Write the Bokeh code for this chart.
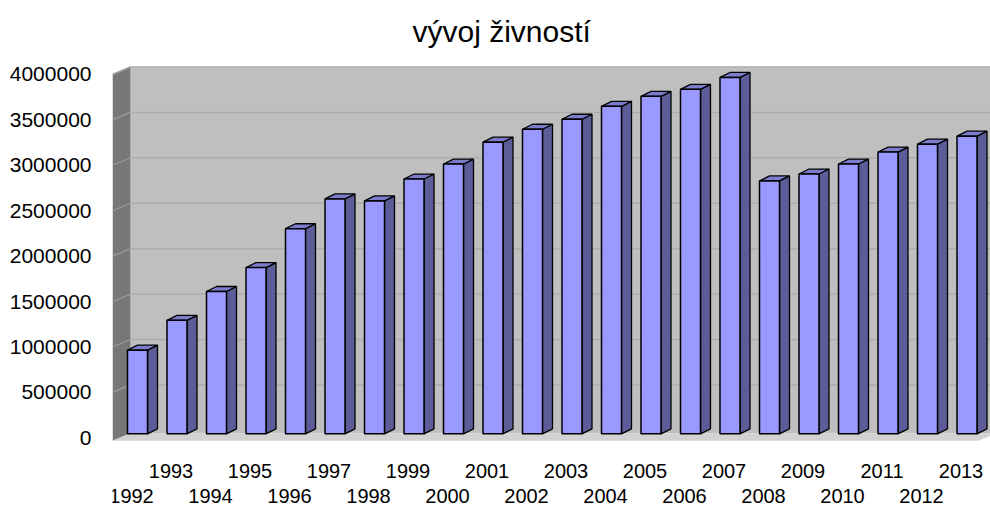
from bokeh.plotting import figure
from bokeh.models import Range1d, FixedTicker, NumeralTickFormatter, ColumnDataSource
from bokeh.core.properties import value
from bokeh.embed import file_html
from bokeh.resources import INLINE
import numpy as np

# ---- data ----
years = ["1992", "1993", "1994", "1995", "1996", "1997", "1998", "1999", "2000", "2001", "2002",
         "2003", "2004", "2005", "2006", "2007", "2008", "2009", "2010", "2011", "2012", "2013"]
counts = [921000, 1249000, 1567000, 1830000, 2258000, 2586000, 2564000, 2805000, 2970000,
          3211000, 3353000, 3463000, 3605000, 3715000, 3792000, 3923000, 2784000, 2860000,
          2970000, 3101000, 3189000, 3277000]
y_ticks = [0, 500000, 1000000, 1500000, 2000000, 2500000, 3000000, 3500000, 4000000]
title_text = "vývoj živností"

# ---- geometry helpers (pixel -> data units) ----
PX_X = 39.5            # px per category step
PX_Y = 91.25e-6        # px per unit of value
def dx(px): return px / PX_X
def dy(px): return px / PX_Y

W, H = 990, 507
LEFT, TOP = 112, 58
frame_w = W - LEFT
frame_h = H - TOP

x_start = -dx(19)
x_end = x_start + dx(frame_w)
y_end = dy(437 - TOP)
y_start = y_end - dy(frame_h)

p = figure(width=W, height=H, output_backend="svg", toolbar_location=None,
           x_range=Range1d(x_start, x_end), y_range=Range1d(y_start, y_end),
           x_axis_location=None, min_border_left=LEFT, min_border_right=0,
           min_border_top=TOP, min_border_bottom=0)
p.outline_line_color = None
p.background_fill_color = "white"
p.border_fill_color = "white"
p.xgrid.visible = False
p.ygrid.visible = False

# title
p.title.text = title_text
p.title.align = "left"
p.title.offset = 300
p.title.standoff = 25
p.title.text_font = "Liberation Sans"
p.title.text_font_size = "30px"
p.title.text_font_style = "normal"
p.title.text_color = "black"

# y axis
ax = p.yaxis[0]
ax.ticker = FixedTicker(ticks=y_ticks)
ax.formatter = NumeralTickFormatter(format="0")
ax.axis_line_color = None
ax.major_tick_line_color = None
ax.minor_tick_line_color = None
ax.major_tick_out = 0
ax.major_tick_in = 0
ax.major_label_standoff = 21
ax.major_label_text_font = "Liberation Sans"
ax.major_label_text_font_size = "21px"
ax.major_label_text_color = "black"

# ---- 3D walls ----
WDX, WDY = dx(18), dy(7.5)
top_v = max(y_ticks)
floor_v = -dy(3)
x_back = x_start + WDX
# back wall
p.quad(left=x_back, right=x_end + 1, bottom=floor_v + WDY, top=top_v + WDY,
       fill_color="#bfbfbf", line_color=None)
p.segment(x0=x_back, y0=top_v + WDY, x1=x_end + 1, y1=top_v + WDY, line_color="#dedede", line_width=1.5)
# side wall
p.patch(x=[x_start, x_back, x_back, x_start],
        y=[top_v, top_v + WDY, floor_v + WDY, floor_v],
        fill_color="#777777", line_color=None)
p.segment(x0=x_start, y0=top_v, x1=x_back, y1=top_v + WDY, line_color="#a8a8a8", line_width=1.5)
# gridlines
gt = np.array(y_ticks[1:], dtype=float)
p.segment(x0=[x_back] * len(gt), y0=gt + WDY, x1=[x_end + 1] * len(gt), y1=gt + WDY,
          line_color="#adadad", line_width=1.5)
p.segment(x0=[x_start] * len(gt), y0=gt, x1=[x_back] * len(gt), y1=gt + WDY,
          line_color="#9c9c9c", line_width=1.2)
# floor
x_fr = x_start + dx(866)
p.patch(x=[x_start, x_fr, x_fr + WDX, x_back],
        y=[floor_v, floor_v, floor_v + WDY, floor_v + WDY],
        fill_color="#d2d2d2", line_color=None)

# ---- bars ----
idx = np.arange(len(counts), dtype=float)
vals = np.array(counts, dtype=float)
lift = dy(4)
xc = idx + dx(6)
l = xc - dx(10)
r = xc + dx(10)
b = np.full_like(vals, lift)
t = vals + lift
BDX, BDY = dx(10), dy(5)

side_xs = [[ri, ri + BDX, ri + BDX, ri] for ri in r]
side_ys = [[bi, bi + BDY, ti + BDY, ti] for bi, ti in zip(b, t)]
top_xs = [[li, ri, ri + BDX, li + BDX] for li, ri in zip(l, r)]
top_ys = [[ti, ti, ti + BDY, ti + BDY] for ti in t]

p.patches(xs=side_xs, ys=side_ys, fill_color="#5c5c99", line_color="black", line_width=1.3)
p.patches(xs=top_xs, ys=top_ys, fill_color="#7c7ccc", line_color="black", line_width=1.3)
p.quad(left=l, right=r, bottom=b, top=t, fill_color="#9999ff", line_color="black", line_width=1.5)

# ---- category labels (staggered) ----
odd = ColumnDataSource(dict(x=idx[1::2], y=[-dy(470 - 437)] * len(idx[1::2]), text=years[1::2]))
even = ColumnDataSource(dict(x=idx[0::2], y=[-dy(495 - 437)] * len(idx[0::2]), text=years[0::2]))
for src in (odd, even):
    p.text(x="x", y="y", text="text", source=src, text_align="center", text_baseline="middle",
           text_font=value("Liberation Sans"), text_font_size="20px", text_color="black")

open("out.html", "w").write(file_html(p, INLINE))
